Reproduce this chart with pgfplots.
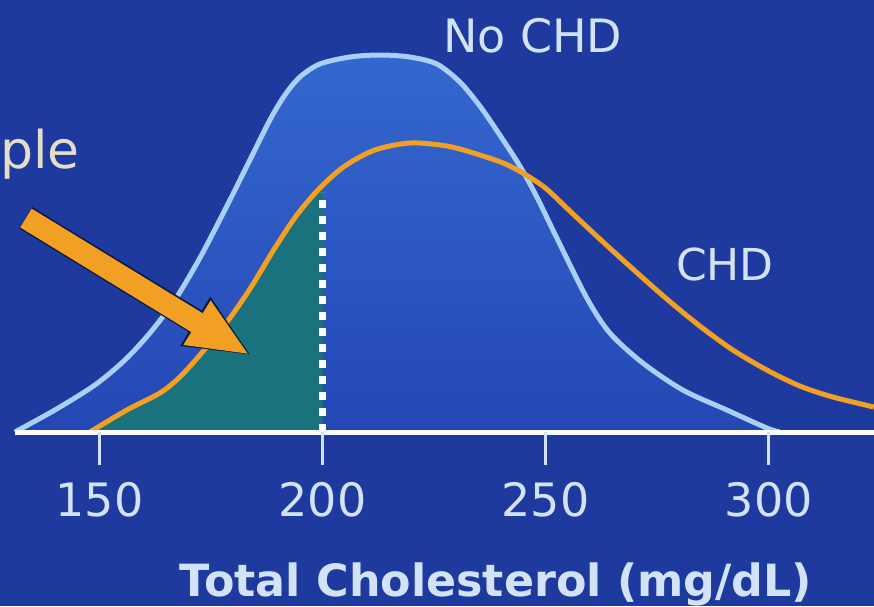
\documentclass[border=0pt]{standalone}
\usepackage{fontspec}
\setmainfont{DejaVu Sans}
\usepackage{pgfplots}
\pgfplotsset{compat=1.18}
\usetikzlibrary{arrows.meta}
\definecolor{bg}{HTML}{1E3A9E}
\definecolor{filltop}{HTML}{3468CE}
\definecolor{fillbot}{HTML}{2447B4}
\definecolor{nochd}{HTML}{A8CFF5}
\definecolor{chd}{HTML}{F2A024}
\definecolor{tealfill}{HTML}{1A727E}
\definecolor{txt}{HTML}{D2E2F7}
\definecolor{pletxt}{HTML}{E2DECB}

\pgfplotstableread{
x y
131.04 0
140.00 22
148.97 47
155.69 72
161.30 99
166.90 132
172.50 174
178.10 222
183.71 272
188.19 312
191.55 337
194.91 355
199.39 368
206.12 375
212.84 377
219.56 375
225.61 368
230.77 350
235.25 326
239.73 297
244.22 266
248.03 235
252.51 194
259.23 134
264.39 99
271.78 69
280.74 42
290.61 22
299.57 4
302.48 0
}\nochdtable

\pgfplotstableread{
x y
147.85 0
156.14 22
163.54 39
168.02 55
172.50 77
178.10 107
183.71 143
189.31 184
194.24 217
199.39 244
205.00 266
211.72 282
219.56 289
227.86 286
235.25 277
241.98 266
249.37 246
255.42 221
262.14 193
269.54 163
277.16 133
284.55 106
291.95 82
299.57 62
306.97 46
314.36 35
323.57 25
}\chdtable

\pgfplotstableread{
x y
147.85 0
156.14 22
163.54 39
168.02 55
172.50 77
178.10 107
183.71 143
189.31 184
194.24 217
199.39 244
200.00 246.4
}\shadedtable

\begin{document}
\begin{tikzpicture}
\begin{axis}[
  scale only axis, width=437pt, height=216pt,
  xmin=127.7, xmax=323.6, ymin=0, ymax=432,
  clip=false, axis on top,
  axis y line=none, axis x line*=bottom,
  x axis line style={draw=none},
  xtick={150,200,250,300}, xticklabels={150,200,250,300},
  ytick=\empty,
  tick align=outside, major tick length=16.5pt,
  x tick style={color=txt, line width=1.5pt},
  xticklabel style={font=\fontsize{23}{23}\selectfont, text=txt, anchor=north, yshift=-5pt},
  xlabel={Total Cholesterol (mg/dL)},
  xlabel style={font=\bfseries\fontsize{22.2}{22.2}\selectfont, text=txt,
    at={(axis description cs:0.5675,0)}, anchor=base, yshift=-82pt},
]
\fill[bg] ([yshift=-87pt]rel axis cs:0,0) rectangle (rel axis cs:1,1);
\coordinate (BL) at ([yshift=-87pt]rel axis cs:0,0);
\coordinate (TR) at (rel axis cs:1,1);

% No CHD area
\addplot[draw=none, top color=filltop, bottom color=fillbot, smooth] table {\nochdtable} \closedcycle;
% teal area under CHD up to 200
\addplot[draw=none, fill=tealfill, smooth] table {\shadedtable} |- (axis cs:147.85,0) -- cycle;
% curves
\addplot[nochd, line width=2.5pt, smooth] table {\nochdtable};
\addplot[chd, line width=2.5pt, smooth] table {\chdtable};
% dotted cut-off
\addplot[white, line width=3.5pt, dash pattern=on 4pt off 4pt] coordinates {(200,0) (200,240)};
% baseline
\draw[white!90!txt, line width=2.5pt] (axis cs:131,0) -- (axis cs:323.6,0);
% arrow
\draw[black!60!bg, line width=12.5pt, -{Triangle[length=33pt,width=26pt]}] (axis cs:133.45,214.3) -- (axis cs:184.1,76.3);
\draw[chd, line width=11pt, -{Triangle[length=31pt,width=23.5pt]}] (axis cs:133.51,214) -- (axis cs:183.71,77);
% labels
\node[anchor=base, text=txt, font=\fontsize{23}{23}\selectfont, inner sep=0] at (axis cs:247.1,380) {No CHD};
\node[anchor=base, text=txt, font=\fontsize{22}{22}\selectfont, inner sep=0] at (axis cs:290.2,152) {CHD};
\node[anchor=base west, text=pletxt, font=\fontsize{26}{26}\selectfont, inner sep=0] at (axis cs:127.7,264) {ple};
\end{axis}
\pgfresetboundingbox
\useasboundingbox (BL) rectangle (TR);
\end{tikzpicture}
\end{document}
